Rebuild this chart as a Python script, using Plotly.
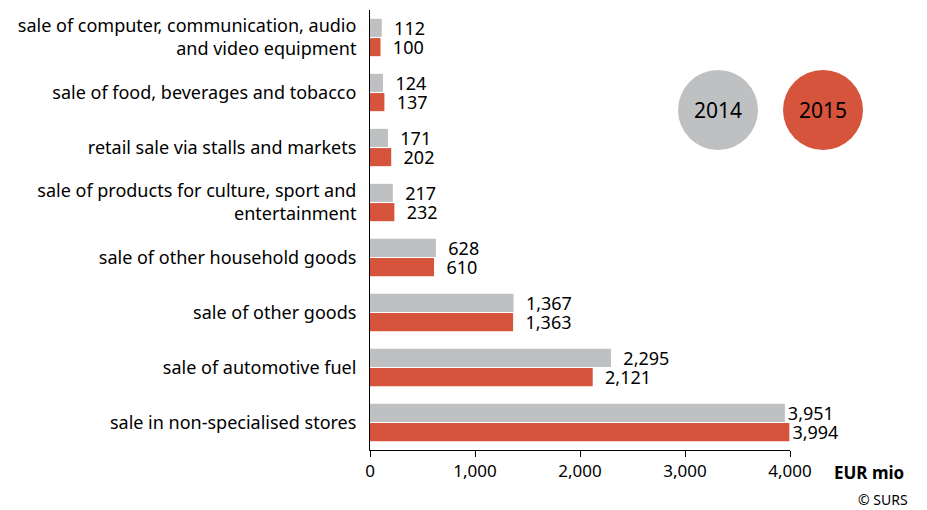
import plotly.graph_objects as go

# Retail trade turnover by activity, EUR mio
categories = [
    "sale of computer, communication, audio<br>and video equipment",
    "sale of food, beverages and tobacco",
    "retail sale via stalls and markets",
    "sale of products for culture, sport and<br>entertainment",
    "sale of other household goods",
    "sale of other goods",
    "sale of automotive fuel",
    "sale in non-specialised stores",
]
values_2014 = [112, 124, 171, 217, 628, 1367, 2295, 3951]
values_2015 = [100, 137, 202, 232, 610, 1363, 2121, 3994]
tick_vals = [0, 1000, 2000, 3000, 4000]
tick_text = ["0", "1,000", "2,000", "3,000", "4,000"]

GREY = "#bfc0c2"
RED = "#d6533c"
FONT = "Noto Sans"

# page body has an 8px margin, so the figure is 8px smaller than the window
PAD = 8
L, R, T, B = 370, 137, 10, 60

def px_x(x):
    return (x - L) / (927 - L - R)

def px_y(y):
    return (510 - B - y) / (510 - T - B)

# a bit of room between bar end and its number (except the longest bars)
label_fmt = ["\u00a0\u00a0%{x:,}"] * (len(categories) - 1) + ["%{x:,}"]

fig = go.Figure()
for name, vals, col in [("2014", values_2014, GREY), ("2015", values_2015, RED)]:
    fig.add_trace(go.Bar(
        y=categories, x=vals, name=name, orientation="h",
        marker=dict(color=col, line=dict(width=0)),
        texttemplate=label_fmt, textposition="outside",
        constraintext="none",
        textfont=dict(family=FONT, size=18, color="black"),
        cliponaxis=False,
    ))

fig.update_layout(
    width=927 - PAD, height=510 - PAD,
    margin=dict(l=L - PAD, r=R, t=T - PAD, b=B),
    paper_bgcolor="white", plot_bgcolor="white",
    barmode="group", bargap=0.3, bargroupgap=0.06,
    showlegend=False,
    font=dict(family=FONT, size=17, color="black"),
    xaxis=dict(
        range=[0, 4000], tickvals=tick_vals, ticktext=tick_text,
        showgrid=False, zeroline=False,
        showline=True, linecolor="black", linewidth=1,
        ticks="outside", ticklen=6, tickcolor="black",
        tickfont=dict(size=17),
    ),
    yaxis=dict(
        autorange="reversed", showgrid=False, zeroline=False,
        showline=True, linecolor="black", linewidth=1,
        ticks="", ticklabelstandoff=9,
        tickfont=dict(size=18),
    ),
)

# year legend as circles
for cx, col, label in [(718, GREY, "2014"), (823, RED, "2015")]:
    fig.add_shape(type="circle", xref="paper", yref="paper",
                  xsizemode="pixel", ysizemode="pixel",
                  xanchor=px_x(cx), yanchor=px_y(110),
                  x0=-40, x1=40, y0=-40, y1=40,
                  fillcolor=col, line=dict(width=0), layer="above")
    fig.add_annotation(x=px_x(cx), y=px_y(110), xref="paper", yref="paper",
                       xanchor="center", yanchor="middle",
                       text=label, showarrow=False,
                       font=dict(size=21, color="black"))

fig.add_annotation(x=px_x(906), y=px_y(472), xref="paper", yref="paper",
                   text="<b>EUR mio</b>", showarrow=False,
                   xanchor="right", yanchor="middle", font=dict(size=17))
fig.add_annotation(x=px_x(910), y=px_y(500), xref="paper", yref="paper",
                   text="© SURS", showarrow=False,
                   xanchor="right", yanchor="middle", font=dict(size=14))

fig.write_html("out.html")
